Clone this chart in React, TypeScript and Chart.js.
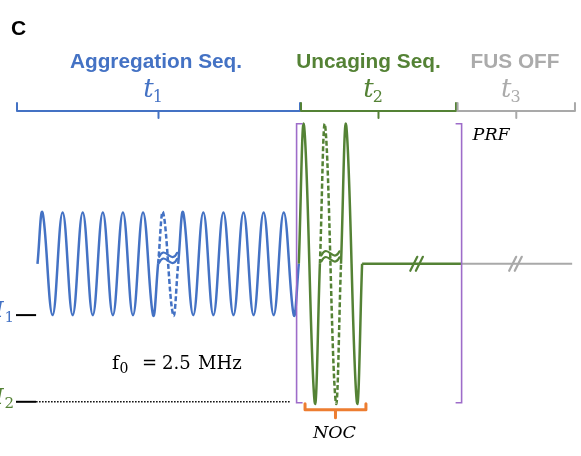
import { useEffect, useRef } from "react";
import { Chart, registerables } from "chart.js";

Chart.register(...registerables);

// ---- Sequence phases -------------------------------------------------------
const PHASE_NAMES = ["Aggregation Seq.", "Uncaging Seq.", "FUS OFF"];
const PHASE_SUBSCRIPTS = ["1", "2", "3"];
const PHASE_COLORS = ["#4472C4", "#548235", "#ABABAB"];
// time axis is in carrier periods of the aggregation burst
const PHASE_STARTS = [-1.02, 13.11, 20.9];
const PHASE_ENDS = [13.06, 20.82, 26.74];

// ---- Aggregation burst (normalised pressure, per cycle) ---------------------
const AGG_START = 0;
const AGG_PERIOD = 1;
const AGG_PEAKS = [1, 1, 1, 1, 1, 1, 1, 1, 1, 1, 1, 1, 1];
const AGG_TROUGHS = [-1, -1, -1, -1, -1, -1, -1, -1, -1, -1, -1, -1, -1];
const AGG_BROKEN_CYCLE = 6;

// ---- Uncaging burst ---------------------------------------------------------
const UNC_START = 13;
const UNC_PERIOD = 1.05;
const UNC_PEAKS = [2.69, 2.69, 2.69];
const UNC_TROUGHS = [-2.69, -2.69, -2.69];
const UNC_BROKEN_CYCLE = 1;

// ---- Pulse repetition / off period -----------------------------------------
const PRF_START = 12.89;
const PRF_TIME = 21.1;
const OFF_END = 26.6;
const BREAK_TIMES = [18.86, 23.78];
const BREAK_COLORS = ["#548235", "#A9A9A9"];

// ---- Intensity levels -------------------------------------------------------
const LEVEL_SUBSCRIPTS = ["1", "2"];
const LEVEL_VALUES = [-1, -2.69];
const LEVEL_COLORS = ["#4472C4", "#548235"];
const LEADER_START = -1.07;
const LEADER_END = -0.07;
const I2_GUIDE_END = 12.56;

// NOC bracket extent (time)
const NOC_START = 13.31;
const NOC_END = 16.34;

// axis extents
const X_MIN = -1.8657;
const X_MAX = 27.0398;
const Y_MIN = -3.7466;
const Y_MAX = 5.1423;

const BLUE = "#4472C4";
const GREEN = "#548235";
const GRAY = "#A9A9A9";
const PURPLE = "#9E6CC9";
const ORANGE = "#ED7D31";

type Pt = { x: number; y: number };

// Burst built from its extrema; zero crossings only where the trace starts,
// ends or switches between solid and dashed.
function burst(start: number, period: number, peaks: number[], troughs: number[], broken: number): Pt[] {
  const pts: Pt[] = [{ x: start, y: 0 }];
  peaks.forEach((p, i) => {
    const t0 = start + i * period;
    if (i > 0 && (i === broken || i === broken + 1)) pts.push({ x: t0, y: 0 });
    pts.push({ x: t0 + period / 4, y: p }, { x: t0 + (3 * period) / 4, y: troughs[i] });
  });
  pts.push({ x: start + peaks.length * period, y: 0 });
  return pts;
}

const dashedCycle = (start: number, period: number, cycle: number) => (ctx: any) => {
  const p = ctx.chart.data.datasets[ctx.datasetIndex].data[ctx.p0DataIndex] as Pt;
  const a = start + cycle * period - 1e-6;
  const b = start + (cycle + 1) * period - 1e-6;
  return p.x >= a && p.x < b ? [5, 2.5] : undefined;
};

function tilde(ctx: CanvasRenderingContext2D, cx: number, cy: number, w: number) {
  ctx.beginPath();
  ctx.moveTo(cx - w / 2, cy + 2);
  ctx.bezierCurveTo(cx - w / 6, cy - 11, cx + w / 6, cy + 11, cx + w / 2, cy - 2);
  ctx.stroke();
}

const annotations = {
  id: "sequenceAnnotations",
  afterDatasetsDraw(chart: any) {
    const ctx: CanvasRenderingContext2D = chart.ctx;
    const sx = chart.scales.x;
    const sy = chart.scales.y;
    const px = (v: number) => sx.getPixelForValue(v);
    const py = (v: number) => sy.getPixelForValue(v);
    ctx.save();
    ctx.lineCap = "round";
    ctx.lineJoin = "round";

    // panel letter
    ctx.fillStyle = "#000";
    ctx.font = "bold 21px 'Liberation Sans', Arial, sans-serif";
    ctx.textAlign = "left";
    ctx.textBaseline = "alphabetic";
    ctx.fillText("C", 11, 35);

    // phase headings, t labels and braces
    const headingX = [156, 368.5, 515];
    PHASE_NAMES.forEach((name, i) => {
      const x0 = px(PHASE_STARTS[i]);
      const x1 = px(PHASE_ENDS[i]);
      const mid = (x0 + x1) / 2;
      const color = PHASE_COLORS[i];
      ctx.fillStyle = color;
      ctx.textAlign = "center";
      ctx.font = "bold 20.8px 'Liberation Sans', Arial, sans-serif";
      ctx.fillText(name, headingX[i], 68);

      ctx.textAlign = "left";
      ctx.font = "italic 26px 'DejaVu Serif', serif";
      const wT = ctx.measureText("t").width;
      ctx.font = "16px 'DejaVu Serif', serif";
      const wS = ctx.measureText(PHASE_SUBSCRIPTS[i]).width;
      const start = mid - 5.5 - (wT + wS - 1) / 2;
      ctx.font = "italic 26px 'DejaVu Serif', serif";
      ctx.fillText("t", start, 97);
      ctx.font = "16px 'DejaVu Serif', serif";
      ctx.fillText(PHASE_SUBSCRIPTS[i], start + wT - 1, 102);

      ctx.strokeStyle = i === 2 ? GRAY : color;
      ctx.lineWidth = 2;
      const yb = 111;
      ctx.beginPath();
      ctx.moveTo(x0, yb - 8);
      ctx.lineTo(x0, yb);
      ctx.lineTo(x1, yb);
      ctx.lineTo(x1, yb - 8);
      ctx.moveTo(mid, yb);
      ctx.lineTo(mid, yb + 7);
      ctx.stroke();
    });

    // PRF bracket
    const top = py(UNC_PEAKS[0]) - 2;
    const bot = py(UNC_TROUGHS[0]) + 1;
    const lx = px(PRF_START);
    const rx = px(PRF_TIME);
    ctx.strokeStyle = PURPLE;
    ctx.lineWidth = 1.6;
    ctx.lineCap = "butt";
    ctx.lineJoin = "miter";
    ctx.beginPath();
    ctx.moveTo(lx + 6, top);
    ctx.lineTo(lx, top);
    ctx.lineTo(lx, bot);
    ctx.lineTo(lx + 6, bot);
    ctx.moveTo(rx - 6, top);
    ctx.lineTo(rx, top);
    ctx.lineTo(rx, bot);
    ctx.lineTo(rx - 6, bot);
    ctx.stroke();
    ctx.lineCap = "round";
    ctx.lineJoin = "round";

    ctx.fillStyle = "#000";
    ctx.font = "italic 17.5px 'DejaVu Serif', serif";
    ctx.textAlign = "left";
    ctx.fillText("PRF", rx + 11, 140);

    // NOC brace
    const n0 = px(NOC_START);
    const n1 = px(NOC_END);
    const nm = (n0 + n1) / 2;
    const ny = bot + 7;
    ctx.strokeStyle = ORANGE;
    ctx.lineWidth = 3;
    ctx.beginPath();
    ctx.moveTo(n0, ny - 6);
    ctx.lineTo(n0, ny);
    ctx.lineTo(n1, ny);
    ctx.lineTo(n1, ny - 6);
    ctx.moveTo(nm, ny);
    ctx.lineTo(nm, ny + 8);
    ctx.stroke();
    ctx.fillStyle = "#000";
    ctx.textAlign = "center";
    ctx.fillText("NOC", nm - 1, 438);

    // broken-cycle marks
    ctx.lineWidth = 2.2;
    ctx.strokeStyle = BLUE;
    const bx = px(AGG_START + (AGG_BROKEN_CYCLE + 0.5) * AGG_PERIOD);
    tilde(ctx, bx, py(0) - 9, 18);
    tilde(ctx, bx, py(0) - 3, 18);
    ctx.strokeStyle = GREEN;
    const gx = px(UNC_START + (UNC_BROKEN_CYCLE + 0.5) * UNC_PERIOD);
    tilde(ctx, gx, py(0) - 10.5, 18);
    tilde(ctx, gx, py(0) - 4.5, 18);

    // time-axis breaks
    BREAK_TIMES.forEach((t, i) => {
      const cx = px(t);
      const cy = py(0);
      ctx.strokeStyle = BREAK_COLORS[i];
      ctx.lineWidth = 2.2;
      ctx.beginPath();
      [-2.8, 2.8].forEach((o) => {
        ctx.moveTo(cx + o - 3.5, cy + 7);
        ctx.lineTo(cx + o + 3.5, cy - 7);
      });
      ctx.stroke();
    });

    // level labels
    LEVEL_VALUES.forEach((v, i) => {
      const y = py(v);
      ctx.fillStyle = LEVEL_COLORS[i];
      ctx.textAlign = "left";
      ctx.font = "italic 22px 'DejaVu Serif', serif";
      ctx.fillText("I", -5, y + 2);
      ctx.font = "15px 'DejaVu Serif', serif";
      ctx.fillText(LEVEL_SUBSCRIPTS[i], 4.5, y + 6.5);
    });

    // carrier frequency
    ctx.fillStyle = "#000";
    ctx.textAlign = "left";
    ctx.font = "19px 'DejaVu Serif', serif";
    ctx.fillText("f", 112, 369);
    ctx.font = "18px 'DejaVu Serif', serif";
    ctx.fillText("=", 142, 369);
    ctx.fillText("2.5", 162, 369);
    ctx.fillText("MHz", 198, 369);
    ctx.font = "14px 'DejaVu Serif', serif";
    ctx.fillText("0", 119.5, 373);

    ctx.restore();
  },
};

export default function App() {
  const ref = useRef<HTMLCanvasElement>(null);

  useEffect(() => {
    if (!ref.current) return;
    const wave = { borderWidth: 2.5, tension: 0.4, pointRadius: 0 };
    const chart = new Chart(ref.current, {
      type: "line",
      data: {
        datasets: [
          {
            ...wave,
            data: burst(AGG_START, AGG_PERIOD, AGG_PEAKS, AGG_TROUGHS, AGG_BROKEN_CYCLE),
            borderColor: BLUE,
            segment: { borderDash: dashedCycle(AGG_START, AGG_PERIOD, AGG_BROKEN_CYCLE) },
          },
          {
            ...wave,
            data: burst(UNC_START, UNC_PERIOD, UNC_PEAKS, UNC_TROUGHS, UNC_BROKEN_CYCLE),
            borderColor: GREEN,
            segment: { borderDash: dashedCycle(UNC_START, UNC_PERIOD, UNC_BROKEN_CYCLE) },
          },
          {
            data: [
              { x: UNC_START + UNC_PEAKS.length * UNC_PERIOD, y: 0 },
              { x: PRF_TIME, y: 0 },
            ],
            borderColor: GREEN,
            borderWidth: 2.5,
            pointRadius: 0,
          },
          {
            data: [
              { x: PRF_TIME, y: 0 },
              { x: OFF_END, y: 0 },
            ],
            borderColor: GRAY,
            borderWidth: 2,
            pointRadius: 0,
          },
          ...LEVEL_VALUES.map((v) => ({
            data: [
              { x: LEADER_START, y: v },
              { x: LEADER_END, y: v },
            ],
            borderColor: "#000",
            borderWidth: 2,
            pointRadius: 0,
          })),
          {
            data: [
              { x: LEADER_END, y: LEVEL_VALUES[1] },
              { x: I2_GUIDE_END, y: LEVEL_VALUES[1] },
            ],
            borderColor: "#000",
            borderWidth: 1.5,
            borderDash: [1.5, 1.5],
            pointRadius: 0,
          },
        ],
      },
      options: {
        animation: false,
        responsive: false,
        devicePixelRatio: 1,
        events: [],
        layout: { padding: 0 },
        scales: {
          x: { type: "linear", display: false, min: X_MIN, max: X_MAX },
          y: { type: "linear", display: false, min: Y_MIN, max: Y_MAX },
        },
        plugins: { legend: { display: false }, tooltip: { enabled: false } },
      },
      plugins: [annotations],
    });
    return () => chart.destroy();
  }, []);

  return (
    <div style={{ position: "absolute", left: 0, top: 0, width: 581, height: 456, background: "#fff" }}>
      <canvas ref={ref} width={581} height={456} style={{ display: "block" }} />
    </div>
  );
}
